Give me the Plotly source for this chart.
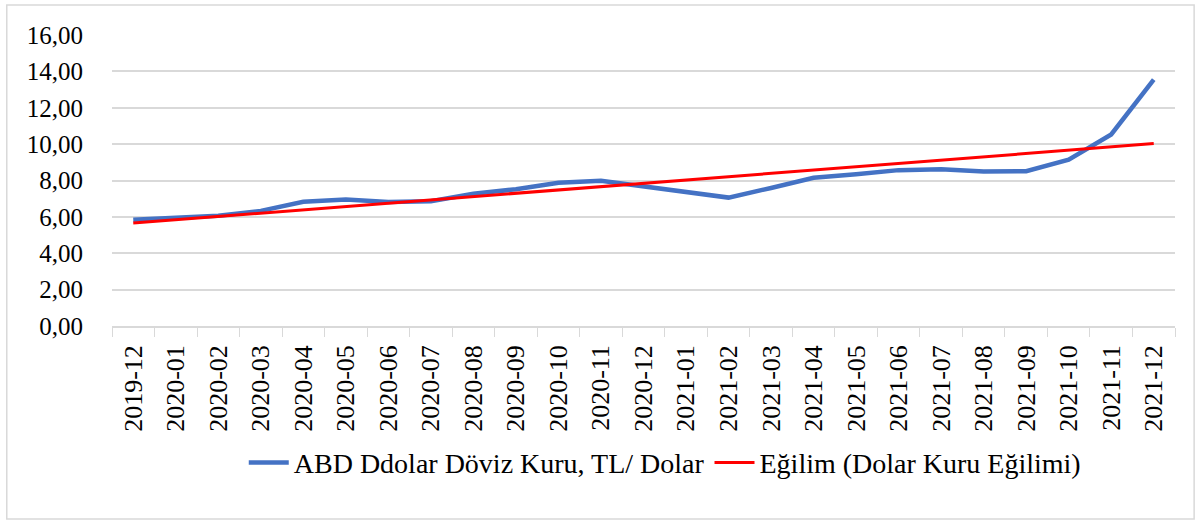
import plotly.graph_objects as go

months = ["2019-12", "2020-01", "2020-02", "2020-03", "2020-04", "2020-05", "2020-06",
          "2020-07", "2020-08", "2020-09", "2020-10", "2020-11", "2020-12", "2021-01",
          "2021-02", "2021-03", "2021-04", "2021-05", "2021-06", "2021-07", "2021-08",
          "2021-09", "2021-10", "2021-11", "2021-12"]
usd_try = [5.84, 5.92, 6.06, 6.33, 6.83, 6.96, 6.82, 6.86, 7.27, 7.52, 7.88, 7.99, 7.68,
           7.37, 7.06, 7.59, 8.15, 8.34, 8.57, 8.62, 8.49, 8.51, 9.15, 10.53, 13.54]
trend_months = ["2019-12", "2021-12"]
trend_values = [5.66, 10.03]
y_ticks = [0, 2, 4, 6, 8, 10, 12, 14, 16]
y_labels = ["0,00", "2,00", "4,00", "6,00", "8,00", "10,00", "12,00", "14,00", "16,00"]

FONT = "Liberation Serif"

fig = go.Figure()
fig.add_trace(go.Scatter(x=months, y=usd_try, mode="lines",
                         name="ABD Ddolar Döviz Kuru, TL/ Dolar",
                         line=dict(color="#4472C4", width=4.5)))
fig.add_trace(go.Scatter(x=trend_months, y=trend_values, mode="lines",
                         name="Eğilim (Dolar Kuru Eğilimi)",
                         line=dict(color="#FF0000", width=3)))

fig.update_layout(
    width=1202, height=520,
    paper_bgcolor="white", plot_bgcolor="white",
    margin=dict(l=112, r=27, t=35, b=194, autoexpand=False),
    font=dict(family=FONT, size=25, color="black"),
    showlegend=True,
    legend=dict(orientation="h", x=0.52, xanchor="center", y=-0.47, yanchor="middle",
                font=dict(family=FONT, size=28), itemwidth=40, tracegroupgap=0),
    shapes=[dict(type="rect", xref="paper", yref="paper", x0=-0.099, x1=1.018,
                 y0=-0.663, y1=1.103, line=dict(color="#D9D9D9", width=1.5),
                 fillcolor="rgba(0,0,0,0)", layer="below")],
)
fig.update_xaxes(
    type="category", categoryorder="array", categoryarray=months,
    tickangle=-90, tickson="boundaries", ticks="outside", ticklen=9,
    tickcolor="#D9D9D9", showline=True, linecolor="#D9D9D9", linewidth=1.5,
    showgrid=False, tickfont=dict(family=FONT, size=26), range=[-0.5, 24.5],
    ticklabelstandoff=7, automargin=False,
)
fig.update_yaxes(
    range=[0, 16], tickvals=y_ticks, ticktext=y_labels, showgrid=True,
    gridcolor="#D9D9D9", gridwidth=1.5, zeroline=False, showline=False,
    ticks="", ticklabelstandoff=28, tickfont=dict(family=FONT, size=25),
    automargin=False,
)

fig.write_html("out.html", config={"displayModeBar": False},
               post_script="document.body.style.margin='0';")
